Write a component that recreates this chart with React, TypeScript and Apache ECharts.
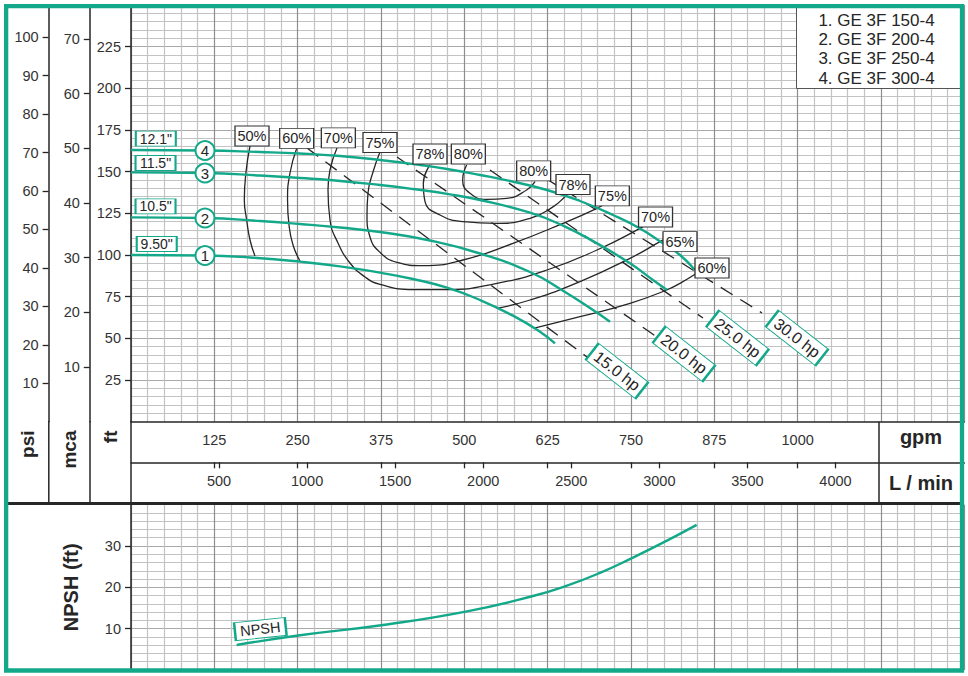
import React, { useEffect, useRef } from "react";
import * as echarts from "echarts";

// ---------------- data ----------------
const gpmTicks = [125, 250, 375, 500, 625, 750, 875, 1000];
const lpmTicks = [500, 1000, 1500, 2000, 2500, 3000, 3500, 4000];
const ftTicks = [25, 50, 75, 100, 125, 150, 175, 200, 225];
const mcaTicks = [10, 20, 30, 40, 50, 60, 70];
const psiTicks = [10, 20, 30, 40, 50, 60, 70, 80, 90, 100];
const npshTicks = [10, 20, 30];

const modelNames = ["1. GE 3F 150-4", "2. GE 3F 200-4", "3. GE 3F 250-4", "4. GE 3F 300-4"];
const curveIds = ["1", "2", "3", "4"];
const impellerDiameters = ['9.50"', '10.5"', '11.5"', '12.1"'];

// head curves: [gpm, ft]
const head1 = [[0, 100.0], [111, 99.7], [178.5, 98.5], [253.5, 96.0], [313.5, 93.2], [373.5, 89.4], [423, 85.6], [474, 80.4], [523.5, 73.0], [573, 63.6], [613.5, 54.0], [636, 47.0]];
const head2 = [[0, 122.6], [111, 122.2], [193.5, 120.4], [253.5, 118.6], [313.5, 116.5], [373.5, 113.8], [448.5, 108.7], [523.5, 100.9], [598.5, 89.8], [648, 78.6], [693, 67.0], [718.5, 60.0]];
const head3 = [[0, 149.6], [111, 149.2], [193.5, 147.7], [253.5, 146.2], [298.5, 145.0], [373.5, 142.0], [423, 139.6], [478.5, 136.4], [523.5, 133.0], [598.5, 125.4], [648, 117.6], [699, 107.0], [748.5, 95.0], [783, 85.0], [804, 79.0]];
const head4 = [[0, 163.0], [111, 162.7], [193.5, 161.8], [253.5, 160.9], [313.5, 159.4], [373.5, 157.0], [433.5, 154.0], [474, 151.6], [523.5, 148.0], [564, 144.8], [624, 139.0], [673.5, 132.4], [723, 124.0], [763.5, 115.9], [798, 107.0], [823.5, 100.0], [846, 91.0]];
const curveIdPos = [[111, 99.7], [111, 122.2], [111, 149.2], [111, 162.7]];
const diameterLabelPos = [[38.6, 106.6], [36.8, 129.2], [36.8, 155.2], [37.2, 169.8]];

// efficiency curves: [gpm, ft]
const eff50 = [[178.5, 165.4], [172.5, 149.8], [170, 133.0], [173.5, 121.0], [178.5, 109.0], [186, 99.4]];
const eff60L = [[248.5, 163.9], [238.5, 149.2], [234.8, 133.0], [237, 118.0], [243, 106.0], [253.5, 96.4]];
const eff70 = [[309, 164.2], [298.5, 151.0], [295.5, 139.0], [298.5, 121.0], [310.5, 107.2], [328.5, 95.2], [351, 86.8], [373.5, 82.4], [423, 79.2], [474, 79.2], [549, 83.0], [624, 91.0], [699, 103.0], [763.5, 116.0], [778.5, 119.8]];
const eff75 = [[373.5, 161.8], [363, 149.8], [355.5, 137.2], [354, 124.0], [358.5, 110.8], [373.5, 101.6], [399, 95.6], [438, 93.6], [498, 97.0], [573, 107.0], [648, 119.0], [699, 128.0], [712.5, 131.2]];
const eff78 = [[448.5, 154.0], [438.5, 143.0], [441, 132.0], [463.5, 124.0], [498.5, 120.0], [548.5, 119.0], [598.5, 122.0], [633.5, 129.0], [651, 135.0], [658.5, 137.8]];
const eff80 = [[503.5, 154.0], [497.5, 145.0], [508.5, 137.0], [533.5, 133.4], [563.5, 134.0], [593.5, 139.0], [606, 144.0]];
const eff65 = [[548.5, 68.0], [598.5, 73.0], [673.5, 84.0], [748.5, 98.0], [793.5, 108.0], [801, 109.6]];
const eff60R = [[603.5, 56.0], [673.5, 63.0], [748.5, 71.0], [803.5, 79.0], [823.5, 83.0], [849, 89.2]];
const effLabels = ["50%", "60%", "70%", "75%", "78%", "80%", "80%", "78%", "75%", "70%", "65%", "60%"];
const effLabelPos = [[181.5, 171.4], [248.5, 170.0], [311, 170.3], [373.5, 167.5], [448.5, 160.6], [506, 160.6], [604, 150.5], [663, 142.3], [722, 135.5], [786.8, 122.8], [823.5, 108.0], [871.5, 92.2]];

// power lines: [gpm, ft]
const hp15 = [[264, 164.2], [684, 38.8]];
const hp20 = [[399, 158.8], [789, 50.8]];
const hp25 = [[538.5, 151.0], [858, 62.2]];
const hp30 = [[621, 146.2], [946.5, 65.2]];
const hpLabels = ["15.0 hp", "20.0 hp", "25.0 hp", "30.0 hp"];
const hpLabelPos = [[729, 30.4], [829.5, 40.6], [909.8, 50.2], [999, 50.2]];

// NPSH: [gpm, ft]
const npsh = [[158.5, 6.05], [253.5, 8.4], [378, 10.9], [504, 14.2], [603, 17.9], [654, 20.4], [703.5, 23.5], [753, 27.2], [804, 31.3], [848.5, 35.1]];
const npshLabel = ["NPSH"];
const npshLabelPos = [[194, 9.9]];

// ---------------- constants ----------------
const GPM_MAX = 1250;
const FT_MAX = 250;
const NPSH_MAX = 40;
const FT_PER_PSI = 2.3067;
const FT_PER_M = 3.28084;
const LPM_PER_GPM = 3.78541;

const TEAL = "#14a88a";
const INK = "#262626";
const MAJOR = "#8e8e8e";
const MINOR = "#c3c3c3";
const FONT = "'Liberation Sans', Arial, Helvetica, sans-serif";
const plain = (v: number) => String(v);

function lineSeries(name: string, data: number[][], color: string, width: number, extra: any = {}) {
  return {
    type: "line",
    name,
    data,
    xAxisIndex: 0,
    yAxisIndex: 0,
    symbol: "none",
    showSymbol: false,
    smooth: 0.5,
    silent: true,
    lineStyle: { color, width },
    emphasis: { disabled: true },
    ...extra,
  };
}

function boxSeries(name: string, texts: string[], pos: number[][], o: any) {
  return {
    type: "scatter",
    name,
    xAxisIndex: o.xAxisIndex ?? 0,
    yAxisIndex: o.yAxisIndex ?? 0,
    symbol: o.symbol ?? "rect",
    symbolSize: o.size,
    symbolRotate: o.rotate ?? 0,
    z: o.z ?? 6,
    silent: true,
    emphasis: { disabled: true },
    itemStyle: { color: "#fff", borderColor: o.border, borderWidth: o.borderWidth ?? 1, opacity: 1 },
    label: {
      show: true,
      position: "inside",
      formatter: "{b}",
      fontSize: o.fontSize,
      color: INK,
      fontFamily: FONT,
      rotate: o.rotate ?? 0,
    },
    data: texts.map((t, i) => ({ name: t, value: pos[i] })),
  };
}

const yTick = (vals: number[]) => ({ show: true, length: 6, customValues: vals, lineStyle: { color: INK, width: 1.3 } });
const yLabel = (vals: number[]) => ({ show: true, customValues: vals, margin: 10, fontSize: 14.5, color: "#333", fontFamily: FONT, formatter: plain });

function buildOption() {
  return {
    animation: false,
    backgroundColor: "#ffffff",
    textStyle: { fontFamily: FONT },
    grid: [
      { left: 131, top: 5, width: 833.33, height: 416.67 },
      { left: 131, top: 421.67, width: 833.33, height: 40.63 },
      { left: 131, top: 504.67, width: 833.33, height: 165.33 },
    ],
    xAxis: [
      {
        gridIndex: 0, type: "value", min: 0, max: GPM_MAX, interval: 125,
        axisLine: { show: true, onZero: false, lineStyle: { color: INK, width: 1.5 } },
        axisTick: { show: false }, axisLabel: { show: false },
        splitLine: { show: true, lineStyle: { color: MAJOR, width: 1.2 } },
        minorTick: { show: false, splitNumber: 5 },
        minorSplitLine: { show: true, lineStyle: { color: MINOR, width: 1.2 } },
      },
      {
        gridIndex: 1, type: "value", position: "top", min: 0, max: GPM_MAX,
        axisLine: { show: false },
        axisTick: { show: true, inside: true, length: 6, customValues: gpmTicks, lineStyle: { color: INK, width: 1.3 } },
        axisLabel: { show: true, inside: true, margin: 11, customValues: gpmTicks, fontSize: 14.5, color: "#333", fontFamily: FONT, formatter: plain },
        splitLine: { show: false },
      },
      {
        gridIndex: 1, type: "value", position: "bottom", min: 0, max: GPM_MAX * LPM_PER_GPM,
        axisLine: { show: true, onZero: false, lineStyle: { color: INK, width: 1.5 } },
        axisTick: { show: true, length: 6, customValues: lpmTicks, lineStyle: { color: INK, width: 1.3 } },
        axisLabel: { show: true, margin: 11, customValues: lpmTicks, fontSize: 14.5, color: "#333", fontFamily: FONT, formatter: plain },
        splitLine: { show: false },
      },
      {
        gridIndex: 2, type: "value", min: 0, max: GPM_MAX, interval: 125,
        axisLine: { show: false }, axisTick: { show: false }, axisLabel: { show: false },
        splitLine: { show: true, lineStyle: { color: MAJOR, width: 1.2 } },
        minorTick: { show: false, splitNumber: 5 },
        minorSplitLine: { show: true, lineStyle: { color: MINOR, width: 1.2 } },
      },
    ],
    yAxis: [
      {
        gridIndex: 0, type: "value", position: "left", min: 0, max: FT_MAX, interval: 25,
        axisLine: { show: true, onZero: false, lineStyle: { color: INK, width: 1.5 } },
        axisTick: yTick(ftTicks), axisLabel: yLabel(ftTicks),
        splitLine: { show: true, lineStyle: { color: "#a9a9a9", width: 1.2 } },
        minorTick: { show: false, splitNumber: 5 },
        minorSplitLine: { show: true, lineStyle: { color: MINOR, width: 1.2 } },
      },
      {
        gridIndex: 0, type: "value", position: "left", offset: 41.2, min: 0, max: FT_MAX / FT_PER_M,
        axisLine: { show: true, onZero: false, lineStyle: { color: INK, width: 1.5 } },
        axisTick: yTick(mcaTicks), axisLabel: yLabel(mcaTicks), splitLine: { show: false },
      },
      {
        gridIndex: 0, type: "value", position: "left", offset: 82.4, min: 0, max: FT_MAX / FT_PER_PSI,
        axisLine: { show: true, onZero: false, lineStyle: { color: INK, width: 1.5 } },
        axisTick: yTick(psiTicks), axisLabel: yLabel(psiTicks), splitLine: { show: false },
      },
      { gridIndex: 1, type: "value", min: 0, max: 1, show: false },
      {
        gridIndex: 2, type: "value", position: "left", min: 0, max: NPSH_MAX, interval: 10,
        name: "NPSH (ft)", nameLocation: "middle", nameRotate: 90, nameGap: 50,
        nameTextStyle: { fontSize: 20, fontWeight: "bold", color: INK, fontFamily: FONT },
        axisLine: { show: true, onZero: false, lineStyle: { color: INK, width: 1.5 } },
        axisTick: yTick(npshTicks), axisLabel: { ...yLabel(npshTicks), fontSize: 14.5 },
        splitLine: { show: true, lineStyle: { color: "#a9a9a9", width: 1.2 } },
        minorTick: { show: false, splitNumber: 5 },
        minorSplitLine: { show: true, lineStyle: { color: MINOR, width: 1.2 } },
      },
    ],
    series: [
      lineSeries("eff 50%", eff50, INK, 1.3, { z: 3 }),
      lineSeries("eff 60% (left)", eff60L, INK, 1.3, { z: 3 }),
      lineSeries("eff 70%", eff70, INK, 1.3, { z: 3 }),
      lineSeries("eff 75%", eff75, INK, 1.3, { z: 3 }),
      lineSeries("eff 78%", eff78, INK, 1.3, { z: 3 }),
      lineSeries("eff 80%", eff80, INK, 1.3, { z: 3 }),
      lineSeries("eff 65%", eff65, INK, 1.3, { z: 3 }),
      lineSeries("eff 60% (right)", eff60R, INK, 1.3, { z: 3 }),
      ...[hp15, hp20, hp25, hp30].map((d, i) =>
        lineSeries(hpLabels[i], d, INK, 1.3, { smooth: false, z: 3, lineStyle: { color: INK, width: 1.3, type: [14, 9] } })
      ),
      ...[head1, head2, head3, head4].map((d, i) =>
        lineSeries("Head " + impellerDiameters[i], d, TEAL, 2.4, { z: 4 })
      ),
      lineSeries("NPSH", npsh, TEAL, 2.4, { xAxisIndex: 3, yAxisIndex: 4, z: 4 }),
      boxSeries("efficiency labels", effLabels, effLabelPos, { size: [34, 20], border: "#333", borderWidth: 1, fontSize: 14.5 }),
      boxSeries("power labels", hpLabels, hpLabelPos, { size: [63, 21], border: TEAL, borderWidth: 1.5, fontSize: 16, rotate: -38 }),
      boxSeries("diameter labels", impellerDiameters, diameterLabelPos, { size: [40, 15], border: TEAL, borderWidth: 1.3, fontSize: 14 }),
      boxSeries("curve ids", curveIds, curveIdPos, { symbol: "circle", size: 19, border: TEAL, borderWidth: 2, fontSize: 15, z: 7 }),
      boxSeries("npsh label", npshLabel, npshLabelPos, { xAxisIndex: 3, yAxisIndex: 4, size: [51, 18], border: TEAL, borderWidth: 1.5, fontSize: 14.5, rotate: 6 }),
    ],
    graphic: [
      // legend box
      { type: "rect", z: 50, shape: { x: 796.5, y: 8, width: 166, height: 80.5 }, style: { fill: "#fff" } },
      { type: "line", z: 51, shape: { x1: 796.5, y1: 8, x2: 796.5, y2: 88.5 }, style: { stroke: "#555", lineWidth: 1 } },
      { type: "line", z: 51, shape: { x1: 796.5, y1: 88.5, x2: 962, y2: 88.5 }, style: { stroke: "#555", lineWidth: 1 } },
      ...modelNames.map((t, i) => ({
        type: "text", z: 52, x: 876.5, y: 20 + i * 19.4,
        style: { text: t, fontSize: 17, fontFamily: FONT, fill: INK, align: "center", verticalAlign: "middle", textAlign: "center", textVerticalAlign: "middle" },
      })),
      // band frame
      { type: "line", z: 40, shape: { x1: 48.8, y1: 421, x2: 48.8, y2: 503 }, style: { stroke: INK, lineWidth: 1.5 } },
      { type: "line", z: 40, shape: { x1: 90, y1: 421, x2: 90, y2: 503 }, style: { stroke: INK, lineWidth: 1.5 } },
      { type: "line", z: 40, shape: { x1: 131, y1: 421, x2: 131, y2: 503 }, style: { stroke: INK, lineWidth: 1.5 } },
      { type: "line", z: 40, shape: { x1: 879, y1: 421.7, x2: 879, y2: 503 }, style: { stroke: INK, lineWidth: 1.5 } },
      { type: "line", z: 41, shape: { x1: 6, y1: 503.5, x2: 962, y2: 503.5 }, style: { stroke: INK, lineWidth: 3 } },
      ...[["psi", 27.5], ["mca", 69.5], ["ft", 110.5]].map(([t, x]) => ({
        type: "text", z: 42, x, y: 430.5, rotation: Math.PI / 2,
        style: { text: t, fontSize: 19, fontWeight: "bold", fontFamily: FONT, fill: INK, align: "right", verticalAlign: "middle", textAlign: "right", textVerticalAlign: "middle" },
      })),
      ...[["gpm", 437], ["L / min", 482.5]].map(([t, y]) => ({
        type: "text", z: 42, x: 921, y,
        style: { text: t, fontSize: 20, fontWeight: "bold", fontFamily: FONT, fill: INK, align: "center", verticalAlign: "middle", textAlign: "center", textVerticalAlign: "middle" },
      })),
      // outer teal frame
      { type: "rect", z: 100, shape: { x: 6.15, y: 6.15, width: 955.85, height: 664.35 }, style: { fill: "none", stroke: TEAL, lineWidth: 4.3 } },
    ],
  };
}

export default function App() {
  const ref = useRef<HTMLDivElement | null>(null);
  useEffect(() => {
    if (!ref.current) return;
    const chart = echarts.init(ref.current, undefined, { renderer: "svg" });
    chart.setOption(buildOption() as any);
    return () => chart.dispose();
  }, []);
  return (
    <div
      ref={ref}
      style={{ position: "absolute", left: 0, top: 0, width: 968, height: 676, background: "#fff" }}
    />
  );
}
